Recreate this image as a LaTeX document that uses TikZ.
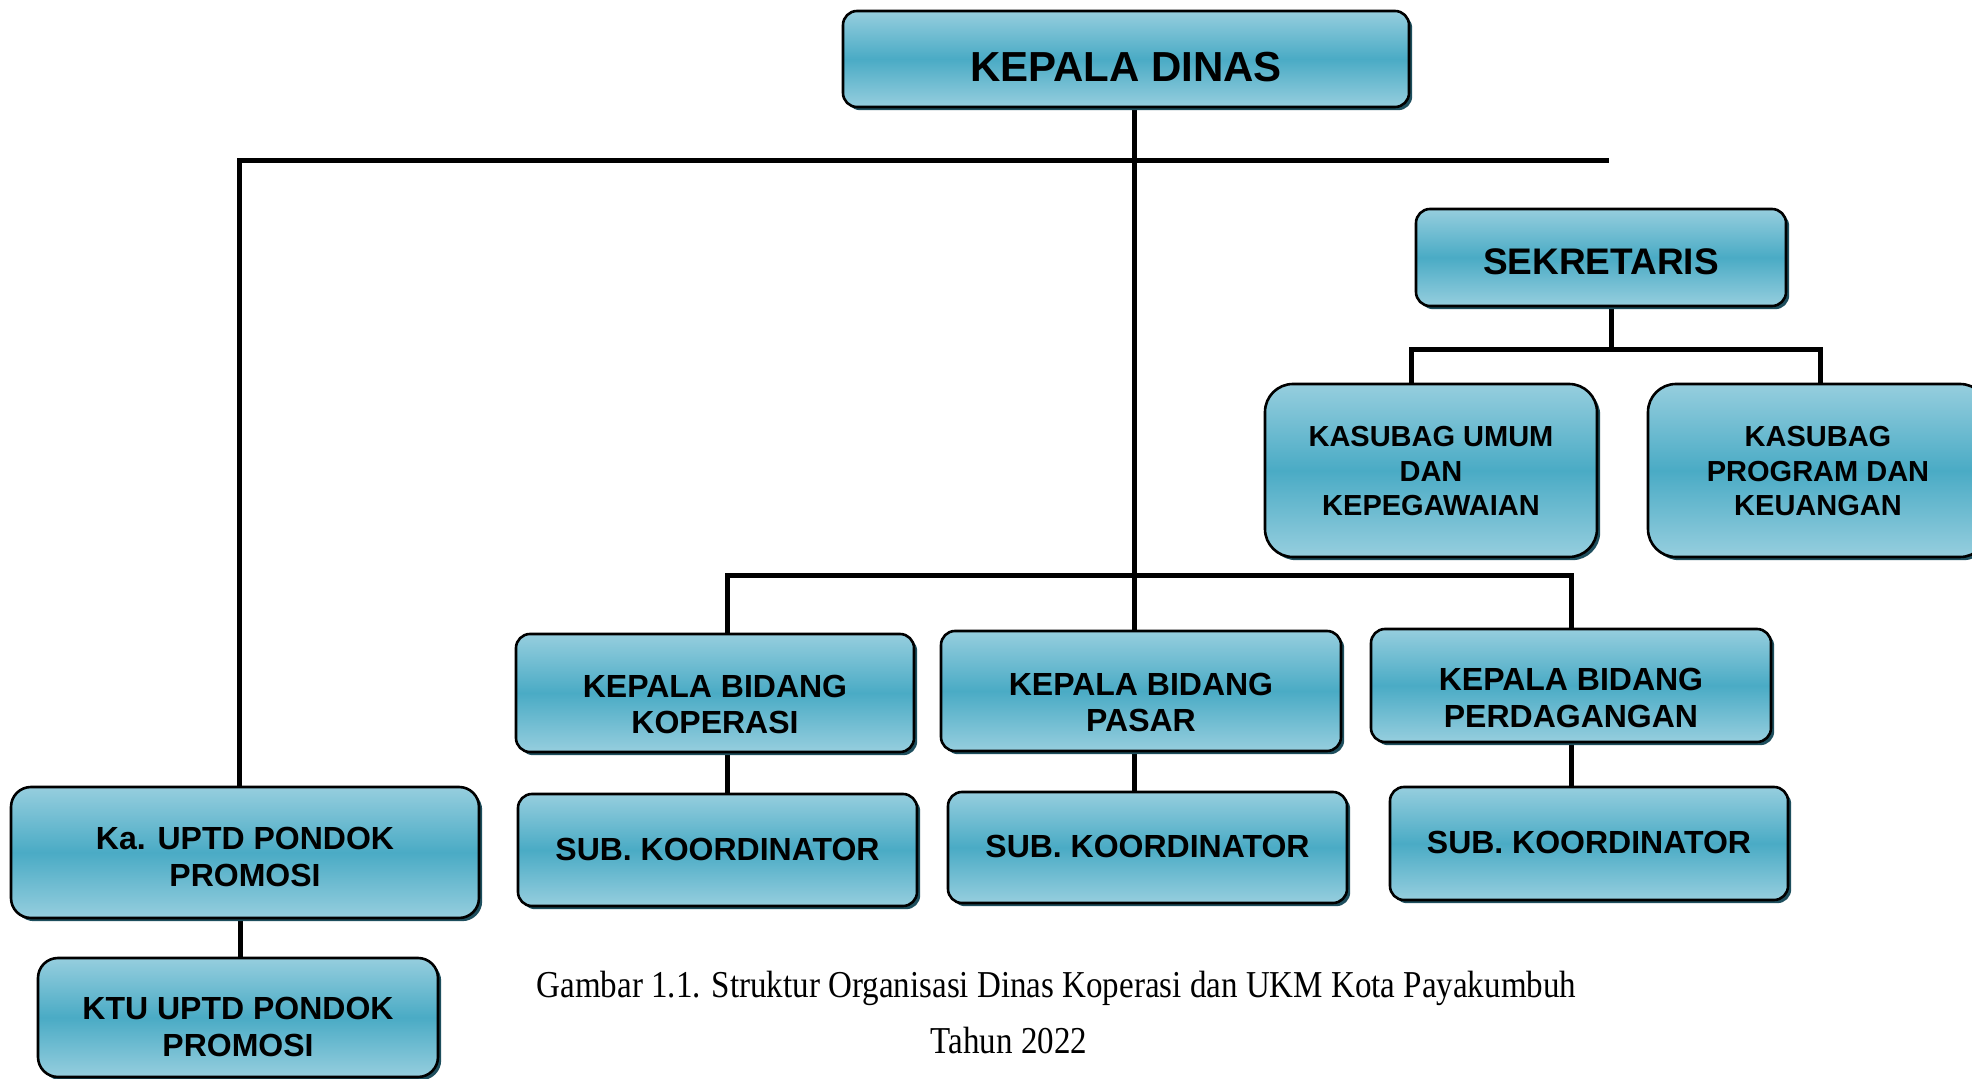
\documentclass[tikz,border=0pt]{standalone}
\usepackage{fontspec}
\usepackage{graphicx}
\setsansfont{Liberation Sans}
\newfontfamily\capfont{Liberation Serif}
\usetikzlibrary{shadows,backgrounds}
\definecolor{boxlight}{HTML}{96CEDE}
\definecolor{boxdark}{HTML}{4AABC5}
\definecolor{shadowc}{HTML}{1E4F5E}
\newcommand\btxt[2]{\raisebox{#1}[\height][\depth]{\begin{tabular}{@{}c@{}}#2\end{tabular}}}
\tikzset{
  orgbox/.style={draw=black, line width=1.3pt, rounded corners=7pt,
    top color=boxlight, bottom color=boxlight, middle color=boxdark,
    drop shadow={shadow xshift=1.6pt, shadow yshift=-1.6pt, fill=shadowc, opacity=1},
    align=center, inner sep=0pt, text=black},
  ftxt/.style={font=\sffamily\bfseries\fontsize{16}{18.25}\selectfont},
  conn/.style={line width=2.5pt, black},
  captxt/.style={font=\capfont\fontsize{19}{23}\selectfont, inner sep=0pt},
}
\begin{document}
\begin{tikzpicture}[x=0.5pt,y=-0.5pt]
\useasboundingbox (0,0) rectangle (1972,1079);
% nodes
\node[orgbox, minimum width=283pt, minimum height=48pt, font=\sffamily\bfseries\fontsize{21}{24}\selectfont] (kd) at (1126,59) {\btxt{-6.5pt}{KEPALA DINAS}};
\node[orgbox, minimum width=185pt, minimum height=48.5pt, font=\sffamily\bfseries\fontsize{18.5}{22}\selectfont] (sek) at (1601,257.5) {\btxt{-4.2pt}{SEKRETARIS}};
\node[orgbox, rounded corners=14pt, minimum width=166pt, minimum height=86.5pt, font=\sffamily\bfseries\fontsize{14.5}{17.3}\selectfont] (ku) at (1431,470.5) {\btxt{-1.9pt}{KASUBAG UMUM\\DAN\\KEPEGAWAIAN}};
\node[orgbox, rounded corners=14pt, minimum width=170pt, minimum height=86.5pt, font=\sffamily\bfseries\fontsize{14.5}{17.3}\selectfont] (kp) at (1818,470.5) {\btxt{-1.9pt}{KASUBAG\\PROGRAM DAN\\KEUANGAN}};
\node[orgbox, ftxt, minimum width=199pt, minimum height=59pt] (kbk) at (715,693) {\btxt{-7.5pt}{KEPALA BIDANG\\KOPERASI}};
\node[orgbox, ftxt, minimum width=200pt, minimum height=60pt] (kbp) at (1141,691) {\btxt{-7.5pt}{KEPALA BIDANG\\PASAR}};
\node[orgbox, ftxt, minimum width=200pt, minimum height=56.5pt] (kbd) at (1571,685.5) {\btxt{-8pt}{KEPALA BIDANG\\PERDAGANGAN}};
\node[orgbox, ftxt, minimum width=199.5pt, minimum height=56pt] (s1) at (717.5,850) {\btxt{-1.5pt}{SUB. KOORDINATOR}};
\node[orgbox, ftxt, minimum width=199.5pt, minimum height=55.5pt] (s2) at (1147.5,847.5) {\btxt{-1.5pt}{SUB. KOORDINATOR}};
\node[orgbox, ftxt, minimum width=199pt, minimum height=56.5pt] (s3) at (1589,843.5) {\btxt{-1.5pt}{SUB. KOORDINATOR}};
\node[orgbox, ftxt, rounded corners=10pt, minimum width=234pt, minimum height=65.5pt] (u1) at (245,852.5) {\btxt{-4pt}{Ka. UPTD PONDOK\\PROMOSI}};
\node[orgbox, ftxt, rounded corners=10pt, minimum width=200pt, minimum height=59.5pt] (u2) at (238,1017.5) {\btxt{-6.5pt}{KTU UPTD PONDOK\\PROMOSI}};
% caption
\node[captxt] (cap1) at (1056.5,988) {\scalebox{0.869}[1]{Gambar 1.1. Struktur Organisasi Dinas Koperasi dan UKM Kota Payakumbuh}};
\node[captxt] (cap2) at (1009,1041) {\scalebox{0.869}[1]{Tahun 2022}};
% coordinates
\coordinate (tl) at (239,161);
\coordinate (tr) at (1609,161);
\coordinate (trunk) at (1134,161);
\coordinate (bl) at (727,576);
\coordinate (br) at (1571,576);
\coordinate (sm) at (1611,350);
\coordinate (sl) at (1411,350);
\coordinate (sr) at (1820,350);
\coordinate (ux) at (240,900);
\begin{scope}[on background layer]
\draw[conn] (u1.north -| tl) -- (tl) -- (tr);
\draw[conn] (kd.south -| trunk) -- (kbp.north -| trunk);
\draw[conn] (kbk.north -| bl) -- (bl) -- (br) -- (kbd.north -| br);
\draw[conn] (sek.south -| sm) -- (sm);
\draw[conn] (ku.north -| sl) -- (sl) -- (sr) -- (kp.north -| sr);
\draw[conn] (kbk.south -| bl) -- (s1.north -| bl);
\draw[conn] (kbp.south -| trunk) -- (s2.north -| trunk);
\draw[conn] (kbd.south -| br) -- (s3.north -| br);
\draw[conn] (u1.south -| ux) -- (u2.north -| ux);
\end{scope}
\end{tikzpicture}
\end{document}
